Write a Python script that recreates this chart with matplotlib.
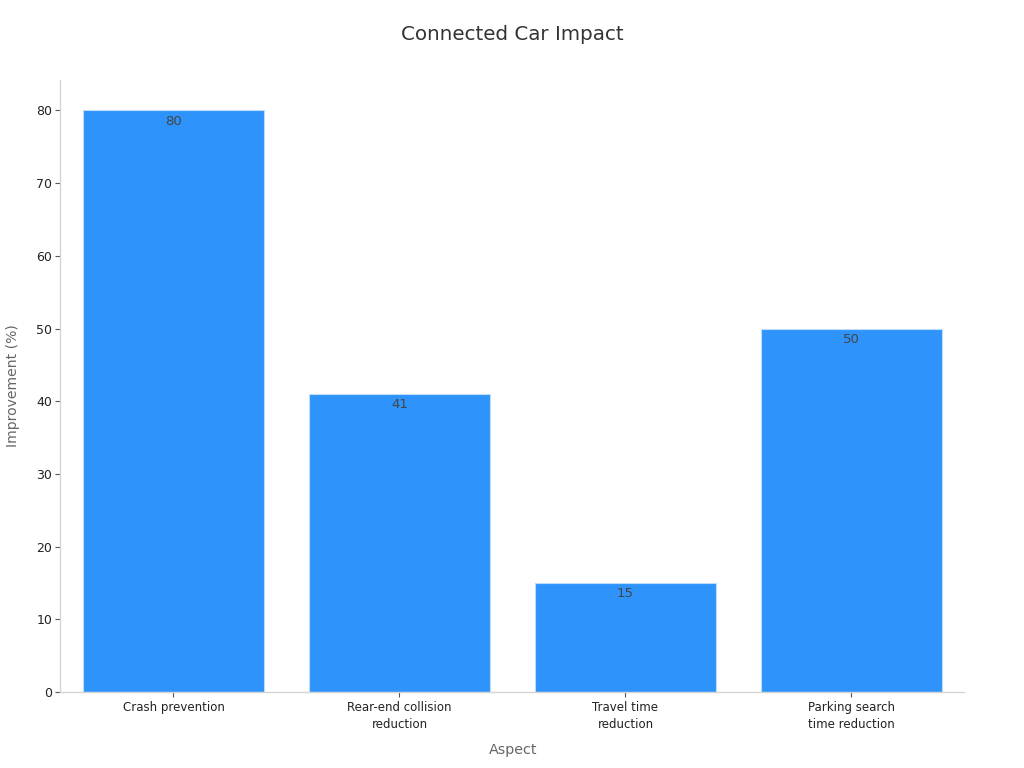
import matplotlib
matplotlib.use('Agg')
import matplotlib.pyplot as plt

categories = ['Crash prevention', 'Rear-end collision\nreduction', 'Travel time\nreduction', 'Parking search\ntime reduction']
values = [80, 41, 15, 50]
y_ticks = [0, 10, 20, 30, 40, 50, 60, 70, 80]

plt.rcParams['font.family'] = ['DejaVu Sans']
fig = plt.figure(figsize=(10.24, 7.68), dpi=100)
ax = fig.add_axes([60/1024, 1-692/768, (964-60)/1024, (692-80)/768])
bars = ax.bar(categories, values, width=0.8, color='#2e93fa', edgecolor='#bcdcfa', linewidth=0.8)
ax.set_xlim(-0.502, 3.498)
ax.set_ylim(0, 612/7.27)
ax.set_yticks(y_ticks)
for s in ['top', 'right']:
    ax.spines[s].set_visible(False)
for s in ['left', 'bottom']:
    ax.spines[s].set_color('#d4d4d4')
    ax.spines[s].set_linewidth(1)
ax.tick_params(axis='y', labelsize=9, length=3.6, pad=2, color='#555555', labelcolor='#222222', width=0.8)
ax.tick_params(axis='x', labelsize=8.5, length=3.6, pad=3.2, color='#555555', labelcolor='#222222', width=0.8)
for label in ax.get_xticklabels():
    label.set_linespacing(1.35)
for b, v in zip(bars, values):
    ax.annotate(str(v), (b.get_x()+b.get_width()/2, v), xytext=(0, -3), textcoords='offset points',
                ha='center', va='top', fontsize=9.5, color='#444444')
ax.set_xlabel('Aspect', fontsize=10.3, color='#666666')
ax.xaxis.set_label_coords((513-60)/904, -(750-692)/612, transform=ax.transAxes)
ax.xaxis.label.set_va('center')
ax.set_ylabel('Improvement (%)', fontsize=10.1, color='#666666')
ax.yaxis.set_label_coords(-(60-13)/904, (692-385.5)/612, transform=ax.transAxes)
ax.yaxis.label.set_va('center')
fig.text(512.5/1024, 1-34/768, 'Connected Car Impact', ha='center', va='center', fontsize=14.3, color='#333333')
fig.savefig('out.png', dpi=100)
